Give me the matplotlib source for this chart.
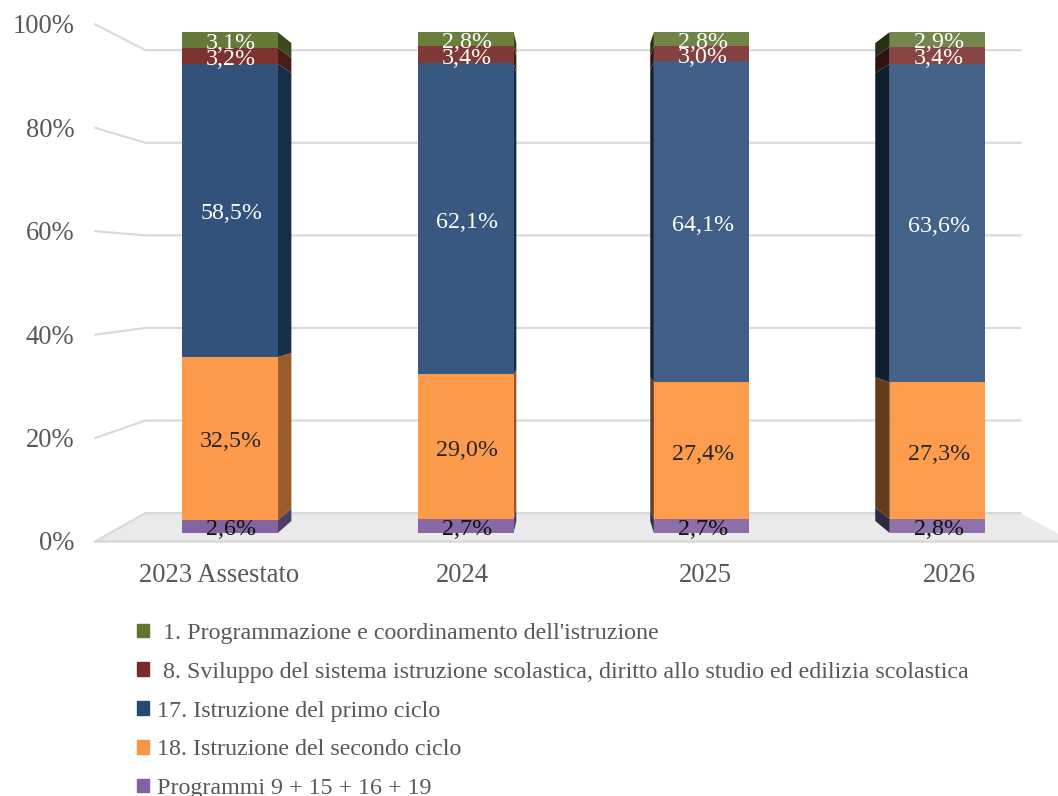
import numpy as np
import matplotlib
matplotlib.use('Agg')
import matplotlib.pyplot as plt
from matplotlib.colors import to_rgb
from matplotlib.patches import Patch

plt.rcParams['font.family'] = ['Liberation Serif', 'DejaVu Serif']

categories = ['2023 Assestato', '2024', '2025', '2026']
y_ticks = [0, 20, 40, 60, 80, 100]

# dal basso verso l'alto
prog_altri = [2.6, 2.7, 2.7, 2.8]
prog_18 = [32.5, 29.0, 27.4, 27.3]
prog_17 = [58.5, 62.1, 64.1, 63.6]
prog_8 = [3.2, 3.4, 3.0, 3.4]
prog_1 = [3.1, 2.8, 2.8, 2.9]

series = [prog_altri, prog_18, prog_17, prog_8, prog_1]
names = ['Programmi 9 + 15 + 16 + 19',
         '18. Istruzione del secondo ciclo',
         '17. Istruzione del primo ciclo',
         " 8. Sviluppo del sistema istruzione scolastica, diritto allo studio ed edilizia scolastica",
         " 1. Programmazione e coordinamento dell'istruzione"]
colors = ['#8064A2', '#F79646', '#254A76', '#772C2A', '#5F7530']
bar_colors = ['#7F5F9F', '#FD9A4A', '#2C4D78', '#772C2A', '#607632']
label_colors = ['#111111', '#262626', 'white', 'white', 'white']

# schiarimento per barra e scurimento delle facce laterali
light = [0.03, 0.06, 0.10, 0.12]
side_dark = [0.62, 0.6, 0.42, 0.4]

bar_width = 0.405
vp_x, vp_y = 1.462, 52.3  # punto di fuga
d_front, d_bar, d_back = -0.032, 0.046, 0.076
wall_l, wall_r = -0.508, 3.507
text_shift = -0.7  # il testo sta un po' piu in basso


def proj(x, y, d):
    return x + (vp_x - x) * d, y + (vp_y - y) * d


def shade(c, k):
    return tuple(v * k for v in to_rgb(c))


def tint(c, k):
    return tuple(v + (1 - v) * k for v in to_rgb(c))


fig = plt.figure(figsize=(10.58, 7.96), dpi=100)
ax = fig.add_axes([0, 0, 1, 1])
ax.set_xlim(-0.975, 3.511)
ax.set_ylim(-52.5, 106.4)
ax.set_axis_off()

grid_c = '#D9D9D9'

# pavimento
corners = [proj(wall_l, 0, d_front), proj(wall_r, 0, d_front),
           proj(wall_r, 0, d_back), proj(wall_l, 0, d_back)]
ax.fill(*zip(*corners), color='#EAEAEA', lw=0, zorder=1)

# griglia e tacche
for t in y_ticks:
    x0, y0 = proj(wall_l, t, d_front)
    x1, y1 = proj(wall_l, t, d_back)
    x2, y2 = proj(wall_r, t, d_back)
    ax.plot([x0, x1, x2], [y0, y1, y2], color=grid_c, lw=1.5, zorder=1.5)
    ax.text(-0.66, y0 + text_shift * 0.7, f'{t}%', ha='right', va='center',
            fontsize=19.2, color='#595959')
ax.plot(*zip(corners[0], corners[1]), color=grid_c, lw=1.8, zorder=1.5)

x = np.arange(len(categories))
totals = np.sum(series, axis=0)
bottom = np.zeros(len(categories))

for vals, c, bc, lc in zip(series, colors, bar_colors, label_colors):
    vals = np.array(vals)
    h = vals / totals * 100
    k_scale = 0.15 if bc == '#FD9A4A' else 1
    cols = [tint(bc, k * k_scale) for k in light]
    ax.bar(x, h, bar_width, bottom=bottom, color=cols, lw=0, zorder=3)

    for i in x:
        left, right = i - bar_width / 2, i + bar_width / 2
        edge = None
        if proj(right, 0, d_bar)[0] > right:
            edge = right
        elif proj(left, 0, d_bar)[0] < left:
            edge = left
        if edge is not None:
            y0, y1 = bottom[i], bottom[i] + h[i]
            bx0, by0 = proj(edge, y0, d_bar)
            bx1, by1 = proj(edge, y1, d_bar)
            ax.fill([edge, bx0, bx1, edge], [y0, by0, by1, y1],
                    color=shade(c, side_dark[i]), lw=0, zorder=2)
        ax.text(i + 0.005, bottom[i] + h[i] / 2 + text_shift, f'{vals[i]:.1f}%'.replace('.', ','),
                ha='center', va='center', fontsize=17.3, color=lc, zorder=4)
    bottom += h

for i, cat in enumerate(categories):
    ax.text(proj(i, 0, d_front)[0], -8.4, cat, ha='center', va='center',
            fontsize=19.2, color='#595959')

leg_handles = [Patch(color=c) for c in colors[::-1]]
ax.legend(leg_handles, names[::-1], loc='upper left',
          bbox_to_anchor=(137 / 1058, 1 - 623 / 796), bbox_transform=fig.transFigure,
          frameon=False, prop={'size': 17.3}, labelcolor='#595959',
          borderpad=0, borderaxespad=0, handlelength=0.5, handleheight=0.5,
          handletextpad=0.33, labelspacing=0.74)

fig.savefig('out.png', dpi=100)
